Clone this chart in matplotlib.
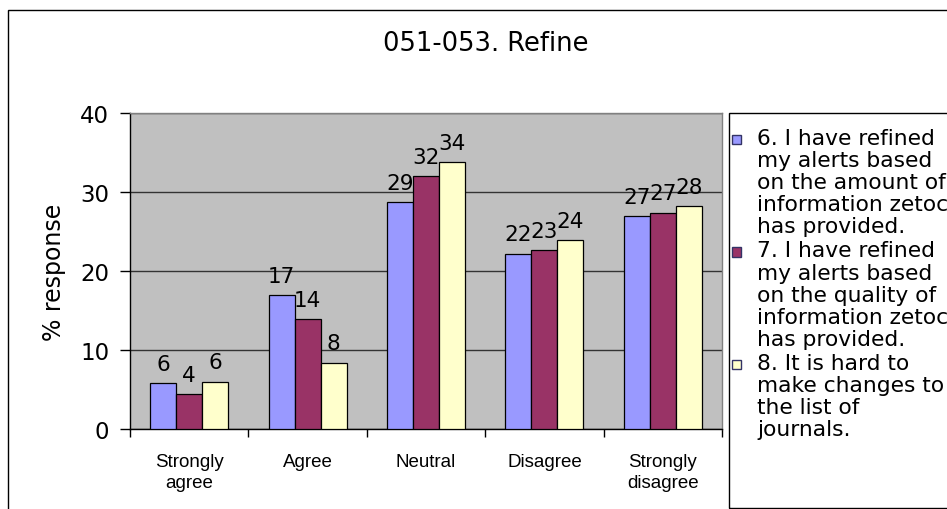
import matplotlib
matplotlib.use("Agg")
import matplotlib.pyplot as plt
from matplotlib.patches import Rectangle
import numpy as np

categories = ["Strongly\nagree", "Agree", "Neutral", "Disagree", "Strongly\ndisagree"]
series_names = [
    "6. I have refined\nmy alerts based\non the amount of\ninformation zetoc\nhas provided.",
    "7. I have refined\nmy alerts based\non the quality of\ninformation zetoc\nhas provided.",
    "8. It is hard to\nmake changes to\nthe list of\njournals.",
]
q6 = [5.8, 16.9, 28.7, 22.2, 26.9]
q7 = [4.4, 13.9, 32.0, 22.6, 27.4]
q8 = [6.0, 8.4, 33.8, 23.9, 28.2]
colors = ["#9999FF", "#993366", "#FFFFCC"]
title = "051-053. Refine"
ylabel = "% response"
yticks = [0, 10, 20, 30, 40]

W, H = 947, 510
fig = plt.figure(figsize=(W / 100, H / 100), dpi=100)
fig.patch.set_facecolor("white")

# outer chart border
fig.patches.append(Rectangle((7.5 / W, -0.01), 1.0, 1 - 10.5 / H + 0.01,
                             transform=fig.transFigure, fill=False,
                             edgecolor="black", linewidth=1.0))

ax = fig.add_axes([130 / W, 1 - 430 / H, (722 - 130) / W, (430 - 114) / H])
ax.set_facecolor("#C0C0C0")

x = np.arange(len(categories))
bw = 0.22
data = [q6, q7, q8]
for i, (vals, c) in enumerate(zip(data, colors)):
    pos = x + (i - 1) * bw
    ax.bar(pos, vals, width=bw, color=c, edgecolor="black", linewidth=0.9, zorder=3)
    for px_, v in zip(pos, vals):
        ax.annotate(f"{v:.0f}", (px_, v), xytext=(0, 9.5), textcoords="offset points",
                    ha="center", va="baseline", fontsize=15.5, family="DejaVu Sans",
                    zorder=4)

ax.set_xlim(-0.5, len(categories) - 0.5)
ax.set_ylim(0, 40)
ax.set_yticks(yticks)
ax.set_yticklabels([str(t) for t in yticks], fontsize=16.5, family="DejaVu Sans")
ax.yaxis.grid(True, color="#333333", linewidth=1.0, zorder=1)
ax.set_axisbelow(True)

ax.set_xticks(np.arange(len(categories) + 1) - 0.5)
ax.set_xticklabels([])
ax.set_xticks(x, minor=True)
ax.set_xticklabels(categories, minor=True, fontsize=13.5, family="Liberation Sans",
                   linespacing=1.3)
ax.tick_params(axis="x", which="minor", length=0, pad=17)
ax.tick_params(axis="x", which="major", length=6, width=1, direction="out", color="black")
ax.tick_params(axis="y", length=7, width=1, direction="out", color="black", pad=8)

for s in ["top", "right"]:
    ax.spines[s].set_color("#808080")
    ax.spines[s].set_linewidth(1.0)
for s in ["left", "bottom"]:
    ax.spines[s].set_color("black")
    ax.spines[s].set_linewidth(1.0)

ax.set_ylabel(ylabel, fontsize=17, family="DejaVu Sans", labelpad=10)

fig.text(486 / W, 1 - 44 / H, title, ha="center", va="center", fontsize=18.5,
         family="DejaVu Sans")

# legend
fig.patches.append(Rectangle((728.5 / W, 1 - 508.5 / H), (W + 5 - 728.5) / W,
                             (508.5 - 113.5) / H, transform=fig.transFigure,
                             fill=False, edgecolor="black", linewidth=1.0))
first_line_y = [140, 252.5, 365]
for name, c, yy in zip(series_names, colors, first_line_y):
    fig.patches.append(Rectangle((732 / W, 1 - (yy + 5) / H), 9 / W, 9 / H,
                                 transform=fig.transFigure, facecolor=c,
                                 edgecolor="#333366", linewidth=1.0))
    fig.text(757 / W, 1 - (yy - 11) / H, name, ha="left", va="top", fontsize=15.7,
             family="DejaVu Sans", linespacing=1.13)

fig.savefig("out.png", dpi=100)
